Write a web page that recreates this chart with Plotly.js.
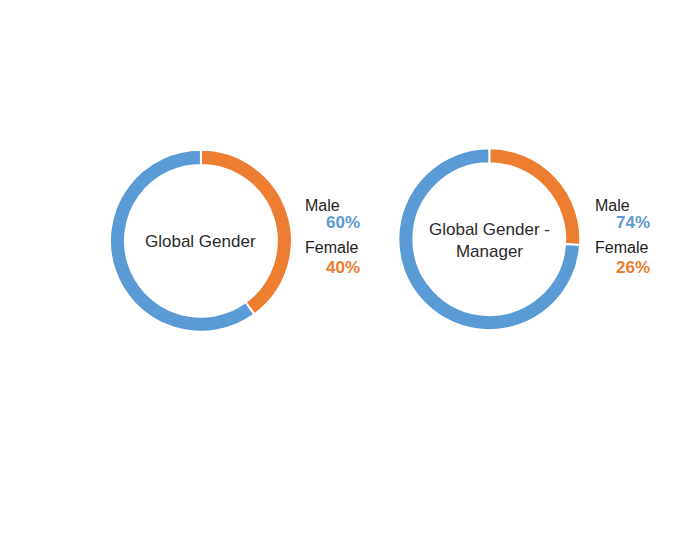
<!DOCTYPE html>
<html>
<head>
<meta charset="utf-8">
<script src="https://cdn.plot.ly/plotly-3.0.1.min.js"></script>
<style>
  html, body {margin: 0; padding: 0; background: #ffffff;}
  #graphe {width: 700px; height: 543px;}
</style>
</head>
<body>
<div id="graphe"></div>
<script>
// donnees
let categories = ["Female", "Male"]
let legende = ["Male", "Female"]
let titres = ["Global Gender", "Global Gender -<br>Manager"]
let valeurs_global = [40, 60]
let valeurs_manager = [26, 74]

let couleurs = {"Male": "#5b9bd5", "Female": "#ed7d31"}
let police = "Liberation Sans, Arial, sans-serif"

function tracer_donut(valeurs, domaine){
    return {
        type: "pie", labels: categories, values: valeurs, sort: false,
        direction: "clockwise", rotation: 0, hole: 0.835,
        marker: {colors: categories.map(c => couleurs[c]), line: {color: "white", width: 2}},
        textinfo: "none", hoverinfo: "none", showlegend: false,
        domain: domaine
    }
}

let domaines = [
    {x: [0.157, 0.417], y: [0.389, 0.724]},
    {x: [0.569, 0.829], y: [0.392, 0.727]}
]
let series = [valeurs_global, valeurs_manager]
let data = series.map((v, i) => tracer_donut(v, domaines[i]))

// positions des etiquettes a droite de chaque donut (pixels)
let x_etiquette = [303, 593]
let x_pourcent = [362, 652]
let y_lignes = [205, 222, 248, 267]

let annotations = []
for (let i = 0; i < series.length; i++){
    let d = domaines[i]
    annotations.push({
        text: titres[i], xref: "paper", yref: "paper", showarrow: false,
        x: (d.x[0] + d.x[1]) / 2, y: (d.y[0] + d.y[1]) / 2 - 0.002,
        xanchor: "center", yanchor: "middle",
        font: {family: police, size: 17, color: "#2a2a2a"}
    })
    legende.forEach((nom, k) => {
        let v = series[i][categories.indexOf(nom)]
        annotations.push({
            text: nom, xref: "paper", yref: "paper", showarrow: false,
            x: x_etiquette[i] / 700, y: 1 - y_lignes[2*k] / 543,
            xanchor: "left", yanchor: "middle",
            font: {family: police, size: 16, color: "#1e1e1e"}
        })
        annotations.push({
            text: "<b>" + v + "%</b>", xref: "paper", yref: "paper", showarrow: false,
            x: x_pourcent[i] / 700, y: 1 - y_lignes[2*k+1] / 543,
            xanchor: "right", yanchor: "middle",
            font: {family: police, size: 17, color: couleurs[nom]}
        })
    })
}

let layout = {
    width: 700, height: 543,
    margin: {l: 0, r: 0, t: 0, b: 0},
    paper_bgcolor: "white",
    showlegend: false,
    annotations: annotations
}
Plotly.newPlot("graphe", data, layout, {staticPlot: true})
</script>
</body>
</html>
